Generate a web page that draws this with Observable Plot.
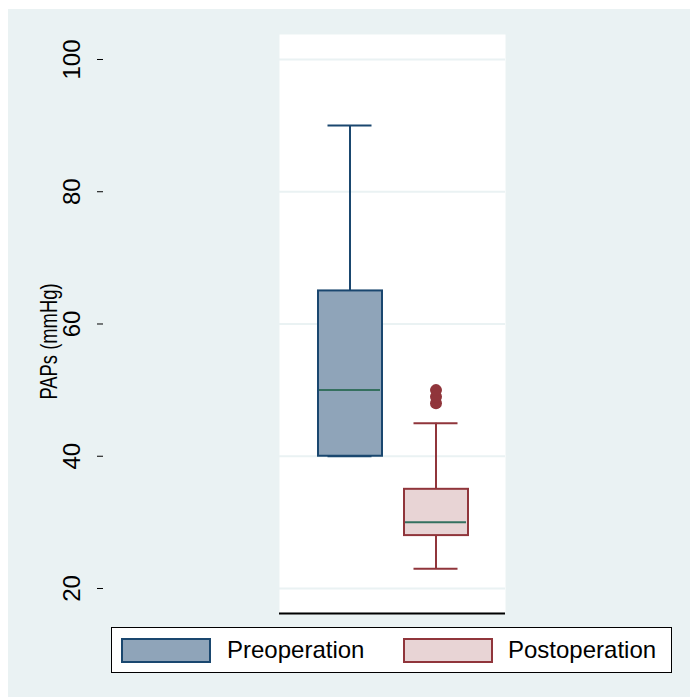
<!DOCTYPE html>
<html>
<head>
<meta charset="utf-8">
<script src="https://cdn.jsdelivr.net/npm/d3@7"></script>
<script src="https://cdn.jsdelivr.net/npm/@observablehq/plot@0.6"></script>
<style>
  html, body { margin: 0; padding: 0; background: #ffffff; }
  #bg { position: absolute; left: 8px; top: 9px; width: 682px; height: 688px; background: #eaf2f3; overflow: hidden; }
  #chart svg { display: block; }
  #legend { position: absolute; left: 103px; top: 618px; width: 559px; height: 44px; background: #fff; border: 1px solid #000; font-family: "Liberation Sans", Arial, sans-serif; font-size: 24px; }
  .sw { position: absolute; top: 10px; width: 86px; height: 21px; border: 2px solid; }
  .lab { position: absolute; top: 8px; line-height: 28px; color: #000; }
</style>
</head>
<body>
<div id="bg">
  <div id="chart"></div>
  <div id="legend"></div>
</div>
<script>
// ---- data ----
const groups = ["Preoperation", "Postoperation"];
const lowerWhisker = [40, 23];
const q1 = [40, 28];
const median = [50, 30];
const q3 = [65, 35];
const upperWhisker = [90, 45];
const outliers = [[], [48, 49, 50]];
const yTicks = [20, 40, 60, 80, 100];
const yLabel = "PAPs (mmHg)";

// ---- styles ----
const fills = ["#8fa4b9", "#e8d4d5"];
const strokes = ["#1a476f", "#90353b"];
const medianColor = "#35705f";
const fontFamily = "'Liberation Sans', Arial, sans-serif";

const rows = groups.map((g, i) => ({
  group: g, lo: lowerWhisker[i], q1: q1[i], med: median[i], q3: q3[i], hi: upperWhisker[i]
}));
const outRows = groups.flatMap((g, i) => outliers[i].map(v => ({group: g, value: v})));

const marks = [
  Plot.frame({fill: "#ffffff", stroke: null}),
  Plot.gridY(yTicks, {stroke: "#eaf2f3", strokeOpacity: 1, strokeWidth: 2}),
  Plot.ruleY([16.37], {stroke: "#000", strokeWidth: 2, dy: 1}),
  Plot.axisY({ticks: yTicks, tickSize: 6, tickFormat: () => "", dx: -176, stroke: "#000", line: true}),
  Plot.text(yTicks, {y: d => d, text: d => String(d), frameAnchor: "left", dx: -207, rotate: -90,
    fontSize: 24, fontFamily, fill: "#000", textAnchor: "middle", lineAnchor: "middle"}),
  Plot.text([yLabel], {text: d => d, frameAnchor: "left", dx: -230, dy: 18, rotate: -90,
    fontSize: 23, fontFamily, fill: "#000", textAnchor: "middle", lineAnchor: "middle",
    className: "ytitle"})
];

rows.forEach((r, i) => {
  const d = [r];
  marks.push(
    Plot.ruleX(d, {x: "group", y1: "q3", y2: "hi", stroke: strokes[i], strokeWidth: 2}),
    Plot.ruleX(d, {x: "group", y1: "lo", y2: "q1", stroke: strokes[i], strokeWidth: 2}),
    Plot.tickY(d, {x: "group", y: "hi", stroke: strokes[i], strokeWidth: 2, inset: 10.5}),
    Plot.tickY(d, {x: "group", y: "lo", stroke: strokes[i], strokeWidth: 2, inset: 10.5}),
    Plot.barY(d, {x: "group", y1: "q1", y2: "q3", fill: fills[i], stroke: strokes[i], strokeWidth: 2, insetLeft: 1, insetRight: 0}),
    Plot.tickY(d, {x: "group", y: "med", stroke: medianColor, strokeWidth: 2, inset: 2}),
    Plot.dot(outRows.filter(o => o.group === r.group), {x: "group", y: "value", r: 6, fill: strokes[i], stroke: null})
  );
});

const chart = Plot.plot({
  width: 682,
  height: 617,
  marginLeft: 271,
  marginRight: 185,
  marginTop: 25,
  marginBottom: 14,
  style: {background: "transparent", fontFamily},
  x: {type: "band", domain: groups, paddingInner: 0.2486, paddingOuter: 0.4306, axis: null},
  y: {domain: [16.37, 103.78], axis: null},
  marks
});
// condense the axis title along its length (narrow typeface look)
d3.select(chart).selectAll("text").filter(function () { return this.textContent === yLabel; })
  .attr("transform", function () { return (this.getAttribute("transform") || "") + " scale(0.8,1)"; });
document.getElementById("chart").appendChild(chart);

const legend = document.getElementById("legend");
const swLeft = [9, 291];
const labLeft = [115, 396];
groups.forEach((g, i) => {
  const sw = document.createElement("div");
  sw.className = "sw";
  sw.style.left = swLeft[i] + "px";
  sw.style.background = fills[i];
  sw.style.borderColor = strokes[i];
  legend.appendChild(sw);
  const lab = document.createElement("div");
  lab.className = "lab";
  lab.style.left = labLeft[i] + "px";
  lab.textContent = g;
  legend.appendChild(lab);
});
</script>
</body>
</html>
